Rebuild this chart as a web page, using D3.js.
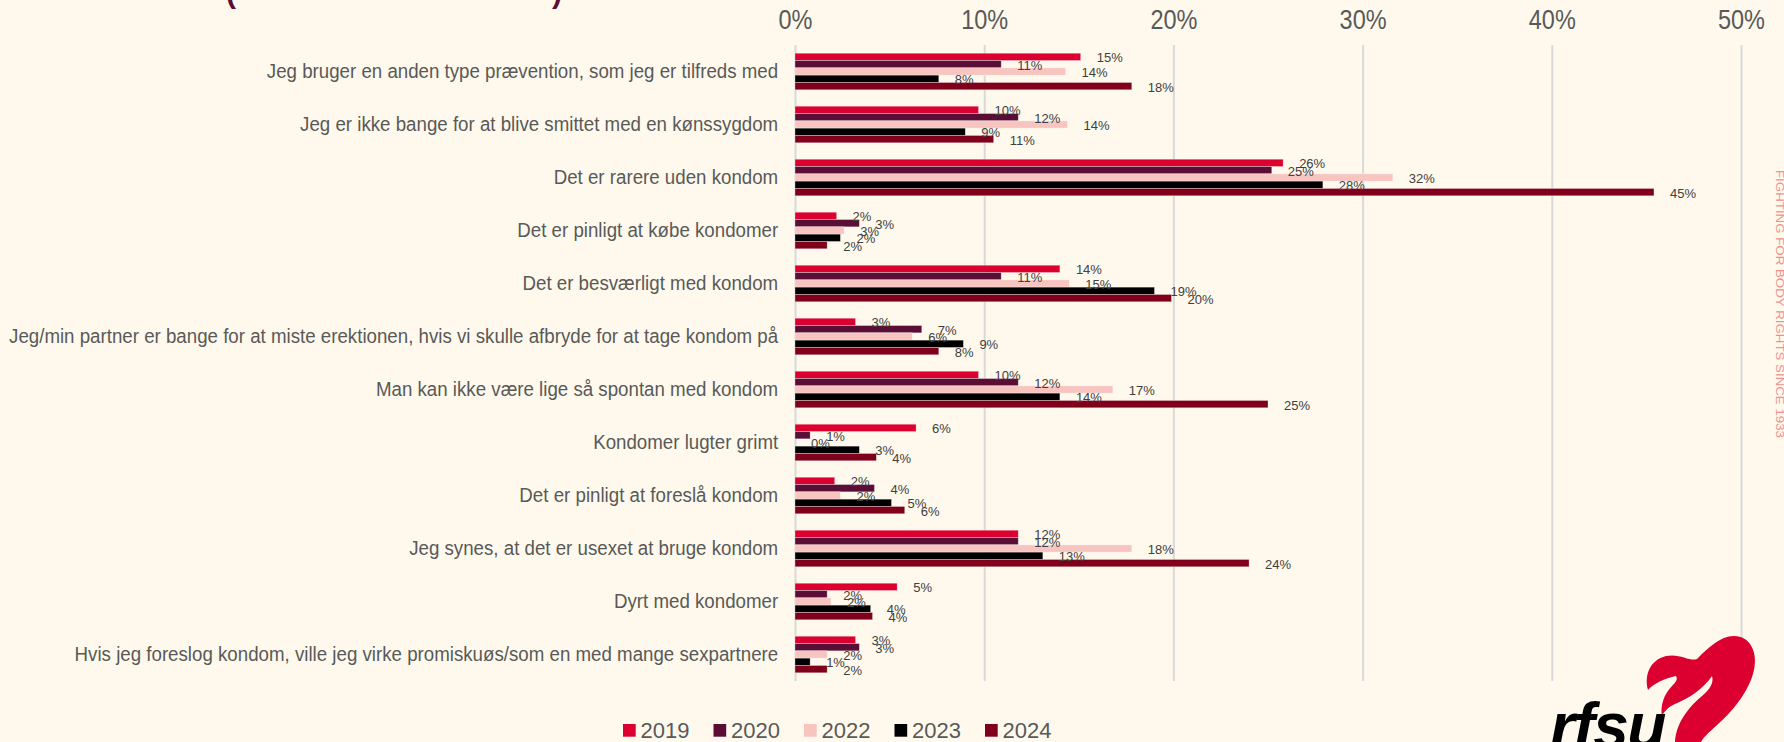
<!DOCTYPE html>
<html>
<head>
<meta charset="utf-8">
<script src="https://cdn.jsdelivr.net/npm/d3@7"></script>
<style>
  body { margin: 0; background: #FEF9EC; overflow: hidden; }
  text { font-family: "Liberation Sans", Arial, sans-serif; }
</style>
</head>
<body>
<div id="chart-area"></div>
<script>
// Reasons for not using a condom, by survey year (percent)

var categories = [
    "Jeg bruger en anden type prævention, som jeg er tilfreds med",
    "Jeg er ikke bange for at blive smittet med en kønssygdom",
    "Det er rarere uden kondom",
    "Det er pinligt at købe kondomer",
    "Det er besværligt med kondom",
    "Jeg/min partner er bange for at miste erektionen, hvis vi skulle afbryde for at tage kondom på",
    "Man kan ikke være lige så spontan med kondom",
    "Kondomer lugter grimt",
    "Det er pinligt at foreslå kondom",
    "Jeg synes, at det er usexet at bruge kondom",
    "Dyrt med kondomer",
    "Hvis jeg foreslog kondom, ville jeg virke promiskuøs/som en med mange sexpartnere"
];
var years = ["2019", "2020", "2022", "2023", "2024"];

var v2019 = [15.1, 9.7, 25.8, 2.2, 14.0, 3.2, 9.7, 6.4, 2.1, 11.8, 5.4, 3.2];
var v2020 = [10.9, 11.8, 25.2, 3.4, 10.9, 6.7, 11.8, 0.8, 4.2, 11.8, 1.7, 3.4];
var v2022 = [14.3, 14.4, 31.6, 2.6, 14.5, 6.2, 16.8, 0.0, 2.4, 17.8, 1.9, 1.7];
var v2023 = [7.6, 9.0, 27.9, 2.4, 19.0, 8.9, 14.0, 3.4, 5.1, 13.1, 4.0, 0.8];
var v2024 = [17.8, 10.5, 45.4, 1.7, 19.9, 7.6, 25.0, 4.3, 5.8, 24.0, 4.1, 1.7];

var xTicks = [0, 10, 20, 30, 40, 50];
var colors = ["#DC0030", "#5A0E35", "#F8C4C0", "#000000", "#80001C"];

var series = [v2019, v2020, v2022, v2023, v2024];

var width = 1784, height = 742;
var plot = { left: 795, right: 1741, top: 45, bottom: 681 };

var svg = d3.select("#chart-area")
    .append("svg")
    .attr("width", width)
    .attr("height", height);

svg.append("rect")
    .attr("width", width)
    .attr("height", height)
    .attr("fill", "#FEF9EC");

// Scales
var x = d3.scaleLinear()
    .domain([0, 50])
    .range([plot.left, plot.right]);

var y = d3.scaleBand()
    .domain(categories)
    .range([plot.top, plot.bottom])
    .paddingInner(0.31)
    .paddingOuter(0.155);

var y1 = d3.scaleBand()
    .domain(years)
    .range([0, y.bandwidth()]);

// Gridlines
var grid = svg.append("g")
    .attr("transform", "translate(0," + plot.top + ")")
    .call(d3.axisBottom(x).tickValues(xTicks).tickSize(plot.bottom - plot.top).tickFormat(""));
grid.select(".domain").remove();
grid.selectAll("line")
    .attr("stroke", "#D9D9D9")
    .attr("stroke-width", 2);

// Top tick labels
var xAxis = svg.append("g")
    .attr("transform", "translate(0," + plot.top + ")")
    .call(d3.axisTop(x).tickValues(xTicks).tickSize(0).tickPadding(16)
        .tickFormat(function(d){ return d + "%"; }));
xAxis.select(".domain").remove();
xAxis.selectAll("text")
    .attr("font-family", "Liberation Sans, Arial, sans-serif")
    .attr("font-size", "27px")
    .attr("fill", "#595959")
    .attr("transform", "scale(0.87,1)");

// Category labels
var yAxis = svg.append("g")
    .attr("transform", "translate(" + plot.left + ",0)")
    .call(d3.axisLeft(y).tickSize(0).tickPadding(18));
yAxis.select(".domain").remove();
yAxis.selectAll("text")
    .attr("font-family", "Liberation Sans, Arial, sans-serif")
    .attr("font-size", "20px")
    .attr("fill", "#595959")
    .attr("transform", "scale(0.935,1)");

// Bars
var groups = svg.append("g").selectAll("g")
    .data(categories)
    .enter().append("g")
    .attr("transform", function(d){ return "translate(0," + y(d) + ")"; });

groups.selectAll("rect")
    .data(function(d, i){ return years.map(function(yr, j){ return { year: yr, value: series[j][i], c: j }; }); })
    .enter().append("rect")
    .attr("x", x(0))
    .attr("y", function(d){ return y1(d.year); })
    .attr("width", function(d){ return x(d.value) - x(0); })
    .attr("height", y1.bandwidth())
    .attr("fill", function(d){ return colors[d.c]; })
    .attr("stroke", "rgba(255,255,255,0.45)")
    .attr("stroke-width", 0.7);

groups.selectAll("text")
    .data(function(d, i){ return years.map(function(yr, j){ return { year: yr, value: series[j][i] }; }); })
    .enter().append("text")
    .attr("x", function(d){ return x(d.value) + 16; })
    .attr("y", function(d){ return y1(d.year) + y1.bandwidth() / 2 + 1; })
    .attr("dy", "0.35em")
    .attr("font-size", "13px")
    .attr("fill", "#404040")
    .text(function(d){ return Math.round(d.value) + "%"; });

// Legend
var legend = svg.append("g");
years.forEach(function(yr, i){
    var lx = 623 + i * 90.5;
    legend.append("rect")
        .attr("x", lx)
        .attr("y", 724)
        .attr("width", 12.7)
        .attr("height", 12.7)
        .attr("fill", colors[i]);
    legend.append("text")
        .attr("x", lx + 17.5)
        .attr("y", 738)
        .attr("font-size", "22px")
        .attr("fill", "#595959")
        .text(yr);
});

// Title fragment (cut off at top)
svg.append("text")
    .attr("x", 226).attr("y", 3)
    .attr("font-size", "30px").attr("font-weight", "bold")
    .attr("fill", "#5A0E35")
    .text("(");
svg.append("text")
    .attr("x", 552).attr("y", 3)
    .attr("font-size", "30px").attr("font-weight", "bold")
    .attr("fill", "#5A0E35")
    .text(")");

// Side tagline
svg.append("text")
    .attr("transform", "translate(1776,170) rotate(90)")
    .attr("font-size", "11px")
    .attr("fill", "#EE918D")
    .attr("textLength", 268)
    .attr("lengthAdjust", "spacingAndGlyphs")
    .text("FIGHTING FOR BODY RIGHTS SINCE 1933");

// Logo
svg.append("path")
    .attr("fill", "#DC0030")
    .attr("d", "M1648,690 C1644,675 1650,660 1666,656 C1680,653 1690,662 1697,659 " +
        "C1708,648 1720,636 1734,636 C1750,636 1758,652 1754,670 " +
        "C1749,692 1732,712 1716,726 C1708,733 1703,738 1701,742 L1675,742 " +
        "C1676,722 1690,706 1702,696 C1710,689 1714,683 1712,676 " +
        "C1704,688 1690,698 1675,704 C1668,707 1664,712 1662,716 " +
        "C1660,706 1664,694 1672,686 C1676,682 1678,679 1676,676 " +
        "C1665,678 1653,684 1648,690 Z");

svg.append("text")
    .attr("x", 1550)
    .attr("y", 748)
    .attr("font-size", "64px")
    .attr("font-weight", "bold")
    .attr("font-style", "italic")
    .attr("letter-spacing", "-1.5px")
    .attr("fill", "#000")
    .text("rfsu");
</script>
</body>
</html>
